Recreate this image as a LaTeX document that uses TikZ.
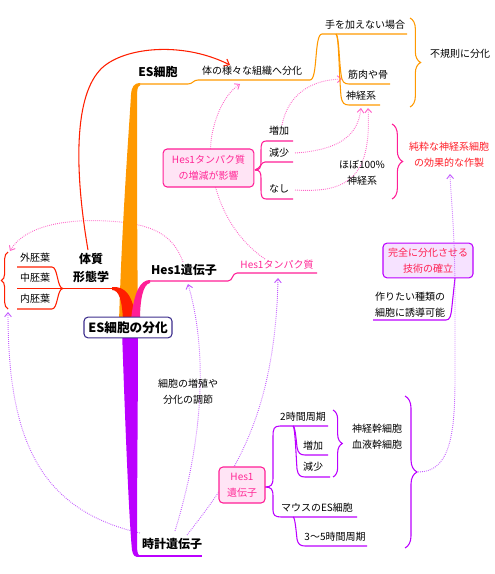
\documentclass[tikz,border=0pt]{standalone}
\usepackage{fontspec}
\setmainfont{Noto Sans CJK JP}
\usetikzlibrary{arrows.meta,decorations.pathreplacing,backgrounds}
\definecolor{cor}{RGB}{255,153,0}
\definecolor{cred}{RGB}{255,30,0}
\definecolor{cpk}{RGB}{255,30,150}
\definecolor{cpu}{RGB}{187,0,255}
\definecolor{ptxt}{RGB}{255,40,150}
\definecolor{rtxt}{RGB}{255,30,40}
\definecolor{ktxt}{RGB}{255,30,80}
\definecolor{cdpk}{RGB}{255,100,200}
\definecolor{cdpu}{RGB}{195,90,255}
\definecolor{cnavy}{RGB}{60,45,140}
\definecolor{pkfill}{RGB}{255,228,245}
\definecolor{pufill}{RGB}{246,226,255}
\begin{document}
\begin{tikzpicture}[x=0.75pt,y=-0.75pt,
  t/.style={font=\fontsize{7.5}{12}\selectfont,inner sep=0pt,align=center},
  bt/.style={font=\fontsize{9}{13.5}\selectfont\bfseries,inner sep=0pt,align=center},
  br/.style={line width=0.8pt},
  bracestyle/.style={line width=0.8pt,decorate,decoration={brace,amplitude=#1}},
  dotln/.style={line width=0.7pt,dash pattern=on 0.6pt off 0.9pt,-{Straight Barb[length=3pt,width=5pt]}},
  pkbox/.style={draw=cpk,fill=pkfill,line width=0.8pt,rounded corners=3pt,text=ptxt,font=\fontsize{7.5}{12}\selectfont,align=center,inner sep=0pt},
]
\useasboundingbox (0,0) rectangle (494,574);

% ---------- nodes ----------
\node[draw=cnavy,fill=white,line width=0.8pt,rounded corners=3pt,minimum width=66pt,minimum height=15.5pt,bt,font=\fontsize{9.5}{12}\selectfont\bfseries] (root) at (128,327.5) {ES細胞の分化};

\node[bt] (es) at (158,72) {ES細胞};
\node[t] (es1) at (252,71) {体の様々な組織へ分化};
\node[t] (es2) at (365,25) {手を加えない場合};
\node[t] (es3) at (368,75) {筋肉や骨};
\node[t] (es4) at (361,96) {神経系};
\node[t] (irr) at (460,54) {不規則に分化};

\node[bt] (tai) at (91,268) {体質\\形態学};
\node[t] (ecto) at (35,258) {外胚葉};
\node[t] (meso) at (35,278) {中胚葉};
\node[t] (endo) at (35,299) {内胚葉};

\node[bt] (hes) at (184,270) {Hes1遺伝子};
\node[t,text=ptxt] (hprot) at (277,265) {Hes1タンパク質};
\node[pkbox,minimum width=68pt,minimum height=28.5pt] (hbox) at (208.5,168) {Hes1タンパク質\\の増減が影響};
\node[t] (inc) at (279,131) {増加};
\node[t] (dec) at (279,153) {減少};
\node[t] (none) at (279,189) {なし};
\node[t] (p100) at (362,173) {ほぼ100\%\\神経系};
\node[t,text=rtxt] (pure) at (449,155) {純粋な神経系細胞\\の効果的な作製};

\node[draw=cpu,fill=pufill,line width=0.8pt,rounded corners=3pt,minimum width=67.5pt,minimum height=26pt,t,text=ktxt] (kan) at (428,260.5) {完全に分化させる\\技術の確立};
\node[t] (tsukuri) at (410,305) {作りたい種類の\\細胞に誘導可能};

\node[bt] (clock) at (172,544) {時計遺伝子};
\node[t] (reg) at (188,392) {細胞の増殖や\\分化の調節};
\node[pkbox,minimum width=34.5pt,minimum height=27pt] (hbox2) at (242,485) {Hes1\\遺伝子};
\node[t] (two) at (303,417) {2時間周期};
\node[t] (inc2) at (313,446) {増加};
\node[t] (dec2) at (313,467) {減少};
\node[t] (nsc) at (377,437) {神経幹細胞\\血液幹細胞};
\node[t] (mouse) at (317,508) {マウスのES細胞};
\node[t] (three) at (335,537) {3〜5時間周期};

% ---------- coordinates ----------
\coordinate (rA) at (88,250);
\coordinate (rB) at (230,65);
\coordinate (pA) at (265,259);
\coordinate (pB) at (240,84);
\coordinate (incA) at (282,125);
\coordinate (musc) at (342,79);
\coordinate (decA) at (295,153);
\coordinate (nerv1) at (361,108);
\coordinate (noneA) at (295,190);
\coordinate (nerv2) at (368,108);
\coordinate (hesA) at (183,262);
\coordinate (germT) at (10,251);
\coordinate (clkA) at (140,533);
\coordinate (germB) at (8,312);
\coordinate (clkB) at (175,531);
\coordinate (hesB) at (188,284);
\coordinate (clkC) at (187,535);
\coordinate (hprotB) at (278,278);
\coordinate (btip) at (418,472);
\coordinate (pureB) at (450,174);

\begin{scope}[on background layer]
% dotted connectors
\draw[dotln,draw=cdpk] (pA) .. controls (215,225) and (205,160) .. (213,130) .. controls (218,108) and (228,92) .. (pB);
\draw[dotln,draw=cdpk] (incA) .. controls (288,95) and (310,80) .. (musc);
\draw[dotln,draw=cdpk] (decA) .. controls (340,150) and (358,135) .. (nerv1);
\draw[dotln,draw=cdpk] (noneA) .. controls (345,193) and (372,180) .. (nerv2);
\draw[dotln,draw=cdpk] (hesA) .. controls (175,240) and (160,226) .. (120,222) .. controls (70,217) and (25,225) .. (germT);
\draw[dotln,draw=cdpu] (clkA) .. controls (40,510) and (8,440) .. (germB);
\draw[dotln,draw=cdpu] (clkB) .. controls (200,450) and (210,360) .. (hesB);
\draw[dotln,draw=cdpu] (clkC) .. controls (230,480) and (275,420) .. (hprotB);
% red solid arrow
\draw[cred,line width=0.8pt,-{Straight Barb[length=3.5pt,width=6pt]}] (rA) .. controls (76,180) and (72,100) .. (100,70) .. controls (120,48) and (180,40) .. (rB);

% ---------- orange branch ----------
\fill[cor] (119,322) .. controls (122,220) and (129,130) .. (131,95) .. controls (131.5,87) and (134,83) .. (140,83) -- (140,85.5) .. controls (137.5,86) and (137,90) .. (137,97) .. controls (137,150) and (137,240) .. (138,322) -- cycle;
\draw[cor,br] (138,84) -- (188,84) .. controls (193,84) and (193,80) .. (198,80) -- (310,80) .. controls (318,80) and (314,34) .. (322,34) -- (407,34);
\draw[cor,br] (336,34) .. controls (339,36) and (339,60) .. (341,74) .. controls (342,82) and (344,84) .. (349,84) -- (390,84);
\draw[cor,br] (336,34) .. controls (339,36) and (339,75) .. (341,96) .. controls (342,103) and (344,105) .. (349,105) -- (380,105);
\draw[cor,bracestyle=8pt] (410,18) -- (410,107);

% ---------- red branch ----------
\fill[cred] (112,287) .. controls (125,286) and (133,295) .. (136,320) -- (123,320) .. controls (122,300) and (119,290) .. (112,290) -- cycle;
\draw[cred,br] (113,288.5) -- (17,288.5);
\draw[cred,br] (17,267) -- (52,267) .. controls (58,267) and (57,288.5) .. (63,288.5);
\draw[cred,br] (17,309) -- (52,309) .. controls (58,309) and (57,288.5) .. (63,288.5);
\draw[cred,bracestyle=5pt] (8,309) -- (8,252);

% ---------- pink branch ----------
\fill[cpk] (150,280) .. controls (140,280) and (134,292) .. (131,320) -- (140,320) .. controls (140,300) and (143,284) .. (150,283) -- cycle;
\draw[cpk,br] (148,281) -- (228,281) .. controls (233,281) and (232,273) .. (237,273) -- (317,273);
\draw[cpk,br] (293,141) -- (266,141) .. controls (262,141) and (261,144) .. (261,150) -- (261,162) .. controls (261,168) and (259.5,170) .. (255,170);
\draw[cpk,br] (293,162) -- (265,162) .. controls (261,162) and (261,168) .. (255,170);
\draw[cpk,br] (293,199) -- (266,199) .. controls (262,199) and (261,196) .. (261,190) -- (261,178) .. controls (261,172) and (259.5,170) .. (255,170);
\draw[cpk,bracestyle=8pt] (392,124) -- (392,199);

% ---------- purple branch ----------
\fill[cpu] (122,330) .. controls (125,420) and (129,520) .. (132,550) .. controls (133,556) and (135,557) .. (139,557) -- (139,555) .. controls (137.5,554) and (137,550) .. (137,545) .. controls (137,480) and (138,400) .. (138,330) -- cycle;
\draw[cpu,br] (137,556) -- (202,556);
\draw[cpu,br] (328,426) -- (280,426) .. controls (274,426) and (273,429) .. (273,436) -- (273,478) .. controls (273,485) and (271,487) .. (265,487);
\draw[cpu,br] (265,487) .. controls (271,487) and (273,489) .. (273,496) -- (273,510) .. controls (273,515) and (275,517) .. (281,517) -- (357,517);
\draw[cpu,br] (293,426) .. controls (295,426) and (296,438) .. (297,447) .. controls (298,453) and (300,455) .. (305,455) -- (328,455);
\draw[cpu,br] (293,426) .. controls (295,426) and (296,455) .. (297,469) .. controls (298,475) and (300,477) .. (305,477) -- (330,477);
\draw[cpu,br] (293,517) .. controls (295,517) and (296,530) .. (297,539) .. controls (298,544) and (300,546) .. (305,546) -- (367,546);
\draw[cpu,bracestyle=7pt] (333,410) -- (333,477);
\draw[cpu,bracestyle=9pt] (405,396) -- (405,548);
\draw[cpu,br] (373,320) -- (446,320) .. controls (450,320) and (451,316) .. (452,306) -- (455,278);
\end{scope}

% dotted line over the box
\draw[dotln,draw=cdpu] (btip) .. controls (448,472) and (455,440) .. (455,380) -- (455,300) .. controls (455,230) and (451,200) .. (pureB);
\end{tikzpicture}
\end{document}
